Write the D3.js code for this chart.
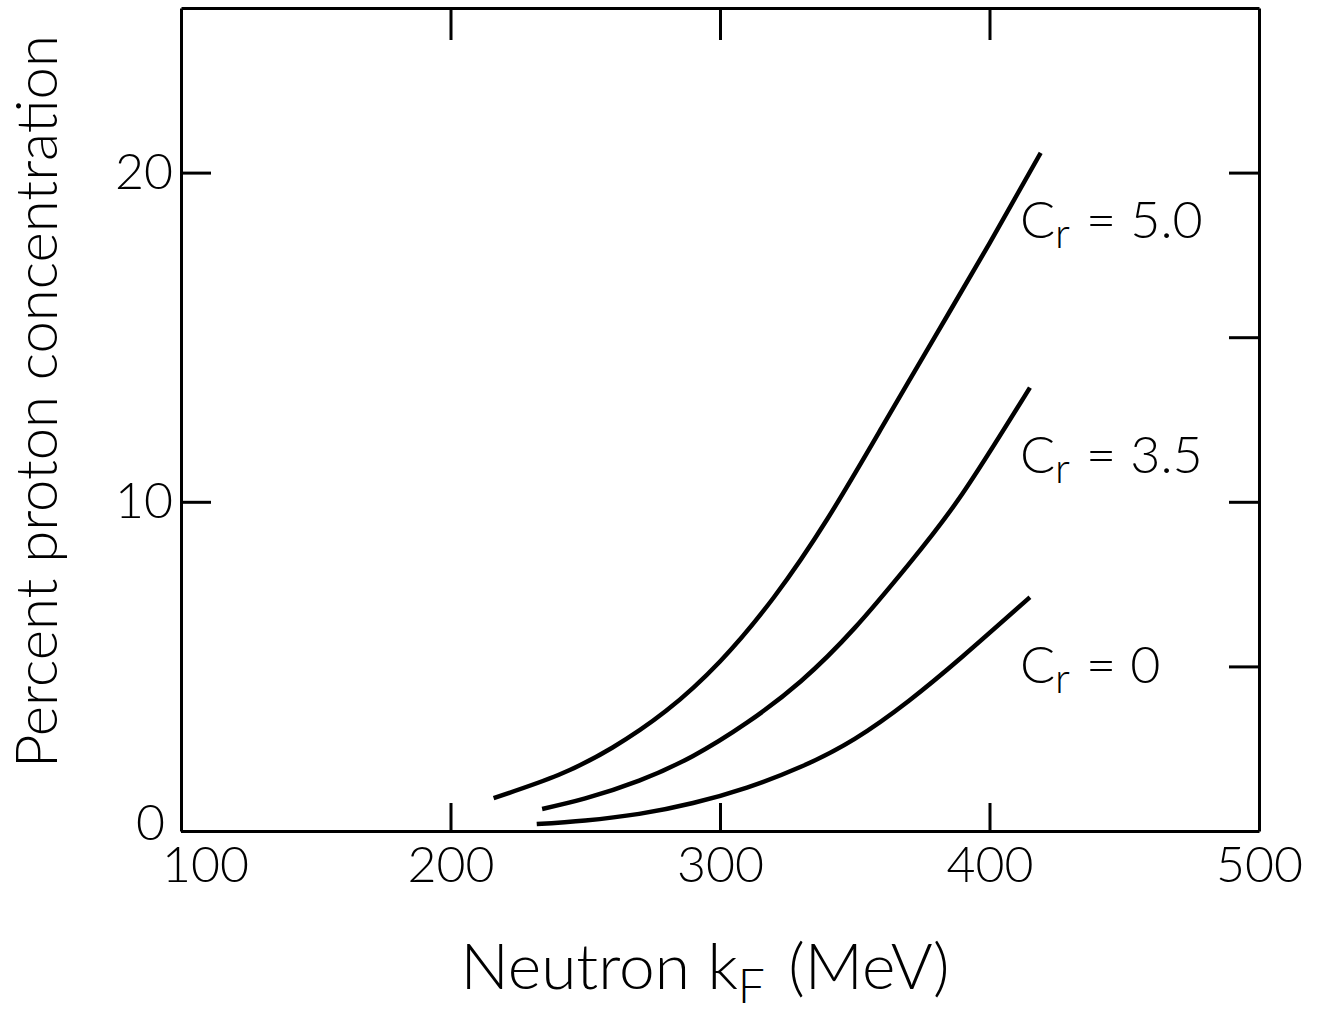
<!DOCTYPE html>
<html>

<head>
  <meta charset="UTF-8" />
  <title>Proton concentration vs neutron kF</title>
  <style>
    body {
      margin: 0;
      background: white;
    }

    svg text {
      font-family: Lato, "Open Sans", sans-serif;
      font-weight: 300;
      fill: black;
    }

    .axis path,
    .axis line {
      stroke: black;
      stroke-width: 3px;
    }

    .axis text {
      font-size: 50px;
    }

    .curve {
      fill: none;
      stroke: black;
      stroke-width: 4.5px;
      stroke-linecap: butt;
    }
  </style>
  <script src="https://d3js.org/d3.v7.min.js"></script>
</head>

<body>
  <div id="chart"></div>
  <script>
    // values: neutron kF (MeV) vs percent proton concentration
    const seriesNames = ["5.0", "3.5", "0"];

    const kF50 = [216, 240, 260, 280, 300, 320, 340, 360, 380, 400, 419];
    const pct50 = [1.0, 1.7, 2.53, 3.65, 5.15, 7.1, 9.5, 12.25, 15.05, 17.85, 20.6];

    const kF35 = [234, 250, 270, 290, 310, 330, 350, 370, 390, 415];
    const pct35 = [0.67, 0.99, 1.53, 2.28, 3.29, 4.55, 6.17, 8.1, 10.25, 13.47];

    const kF0 = [232, 250, 270, 290, 310, 330, 350, 370, 390, 415];
    const pct0 = [0.21, 0.32, 0.52, 0.85, 1.32, 1.95, 2.8, 3.95, 5.3, 7.1];

    const xTicks = [100, 200, 300, 400, 500];
    const xTopTicks = [200, 300, 400];
    const yTicks = [0, 10, 20];
    const yRightTicks = [5, 10, 15, 20];

    let margin = { top: 8, right: 62, bottom: 187, left: 181 },
      width = 1321 - margin.left - margin.right,
      height = 1018 - margin.top - margin.bottom;

    let svg = d3.select("#chart")
      .append("svg")
      .attr("width", 1321)
      .attr("height", 1018)
      .append("g")
      .attr("transform", "translate(" + margin.left + "," + margin.top + ")");

    let xScale = d3.scaleLinear().domain([100, 500]).range([0, width]);
    let yScale = d3.scaleLinear().domain([0, 25]).range([height, 0]);

    /* Axes: ticks point inward, all four sides close the frame */
    svg.append("g")
      .attr("class", "axis")
      .attr("transform", "translate(0," + height + ")")
      .call(d3.axisBottom(xScale).tickValues(xTicks).tickSizeInner(-28).tickSizeOuter(0).tickPadding(15));

    svg.append("g")
      .attr("class", "axis")
      .call(d3.axisTop(xScale).tickValues(xTopTicks).tickSizeInner(-32).tickSizeOuter(0).tickFormat(""));

    svg.append("g")
      .attr("class", "axis")
      .call(d3.axisLeft(yScale).tickValues(yTicks).tickSizeInner(-30).tickSizeOuter(0).tickPadding(8));

    svg.append("g")
      .attr("class", "axis")
      .attr("transform", "translate(" + width + ",0)")
      .call(d3.axisRight(yScale).tickValues(yRightTicks).tickSizeInner(-30).tickSizeOuter(0).tickFormat(""));

    // the "0" sits a little above/left of the corner, the "100" a little right of it
    svg.selectAll(".axis .tick text")
      .filter(function (d) { return d === 0; })
      .attr("x", -16)
      .attr("dy", "0.16em");
    svg.selectAll(".axis .tick text")
      .filter(function (d) { return d === 100; })
      .attr("dx", 24);

    /* Curves */
    let series = [
      { name: seriesNames[0], xs: kF50, ys: pct50 },
      { name: seriesNames[1], xs: kF35, ys: pct35 },
      { name: seriesNames[2], xs: kF0, ys: pct0 }
    ];

    let line = d3.line()
      .x(d => xScale(d[0]))
      .y(d => yScale(d[1]))
      .curve(d3.curveNatural);

    series.forEach(s => {
      let pts = s.xs.map((x, i) => [x, s.ys[i]]);
      svg.append("path")
        .attr("class", "curve")
        .attr("d", line(pts));

      let last = pts[pts.length - 1];
      let label = svg.append("text")
        .attr("x", xScale(415) - 10)
        .attr("y", yScale(last[1] - 2.6))
        .style("font-size", "52px");
      label.append("tspan").text("C");
      label.append("tspan").attr("dy", 10).style("font-size", "42px").text("r");
      label.append("tspan").attr("dy", -10).attr("dx", 16).text("= " + s.name);
    });

    /* Axis titles */
    let xTitle = svg.append("text")
      .attr("x", width / 2 - 15)
      .attr("y", height + 158)
      .attr("text-anchor", "middle")
      .style("font-size", "64px");
    xTitle.append("tspan").text("Neutron  k");
    xTitle.append("tspan").attr("dy", 14).style("font-size", "48px").text("F");
    xTitle.append("tspan").attr("dy", -14).attr("dx", 6).text(" (MeV)");

    svg.append("text")
      .attr("transform", "translate(" + (-124) + "," + (height / 2 - 18) + ") rotate(-90)")
      .attr("text-anchor", "middle")
      .style("font-size", "58px")
      .text("Percent  proton  concentration");
  </script>
</body>

</html>
